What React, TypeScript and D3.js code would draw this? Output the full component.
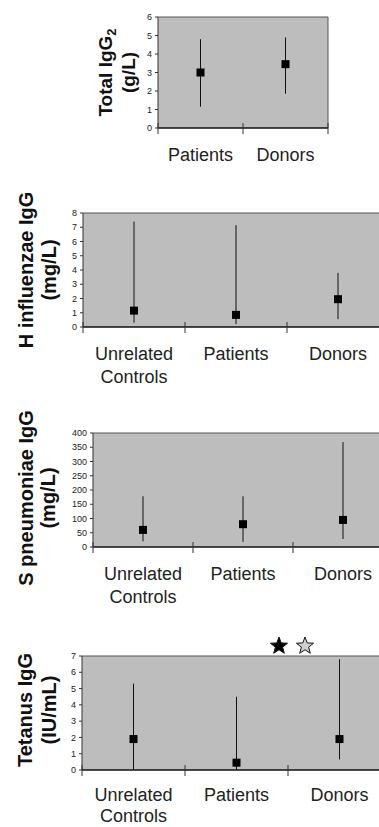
import React from 'react';
import * as d3 from 'd3';

// Valores
const twoGroups = [['Patients'], ['Donors']];
const threeGroups = [['Unrelated', 'Controls'], ['Patients'], ['Donors']];

// Total IgG2 (g/L)
const igg2Mean = [3.0, 3.45];
const igg2Low = [1.15, 1.85];
const igg2High = [4.8, 4.9];
const igg2Ticks = [0, 1, 2, 3, 4, 5, 6];

// H influenzae IgG (mg/L)
const hibMean = [1.15, 0.85, 1.95];
const hibLow = [0.3, 0.2, 0.55];
const hibHigh = [7.4, 7.15, 3.8];
const hibTicks = [0, 1, 2, 3, 4, 5, 6, 7, 8];

// S pneumoniae IgG (mg/L)
const pnMean = [60, 80, 95];
const pnLow = [20, 18, 28];
const pnHigh = [178, 178, 368];
const pnTicks = [0, 50, 100, 150, 200, 250, 300, 350, 400];

// Tetanus IgG (IU/mL)
const tetMean = [1.9, 0.45, 1.9];
const tetLow = [0, 0, 0.65];
const tetHigh = [5.3, 4.5, 6.8];
const tetTicks = [0, 1, 2, 3, 4, 5, 6, 7];

const FONT = '"Liberation Sans", Arial, sans-serif';
const PLOT_FILL = '#bdbdbd';

function Star({ x, y, r, fill }) {
  const pts = d3.range(10).map(i => {
    const a = -Math.PI / 2 + (i * Math.PI) / 5;
    const rr = i % 2 === 0 ? r : r * 0.42;
    return [x + rr * Math.cos(a), y + rr * Math.sin(a)];
  });
  return <path d={d3.line()(pts) + 'Z'} fill={fill} stroke="#111" strokeWidth={1} />;
}

function Panel({ left, top, bottom, bandW, groups, mean, low, high, ticks, labels, labelX, labelSize,
  labelDy = 0, catDy = 33, catGap = 23, frameRight = false }) {
  const yMax = ticks[ticks.length - 1];
  const y = d3.scaleLinear().domain([0, yMax]).range([bottom, top]);
  const x = d3.scaleBand().domain(groups.map((_, i) => String(i))).range([left, left + bandW * groups.length]);
  const right = left + bandW * groups.length;
  const cy = (top + bottom) / 2 + labelDy;
  const m = 4;
  return (
    <g>
      <rect x={left} y={top} width={right - left} height={bottom - top} fill={PLOT_FILL} />
      <line x1={left} x2={right} y1={top} y2={top} stroke="#555" strokeWidth={1} />
      {frameRight && <line x1={right} x2={right} y1={top} y2={bottom} stroke="#555" strokeWidth={1} />}
      <line x1={left} x2={left} y1={top} y2={bottom} stroke="#333" strokeWidth={1} />
      <line x1={left} x2={right} y1={bottom} y2={bottom} stroke="#111" strokeWidth={1.5} />
      {ticks.map(t => (
        <g key={t}>
          <line x1={left - 3} x2={left} y1={y(t)} y2={y(t)} stroke="#333" />
          <text x={left - 6} y={y(t)} dy="0.35em" textAnchor="end" fontSize={9} fill="#222" fontFamily={FONT}>{t}</text>
        </g>
      ))}
      {d3.range(groups.length + 1).map(i => (
        <line key={i} x1={left + i * bandW} x2={left + i * bandW} y1={bottom - 5} y2={bottom + 6} stroke="#333" />
      ))}
      {groups.map((g, i) => {
        const cx = x(String(i)) + x.bandwidth() / 2;
        return (
          <g key={i}>
            <line x1={cx} x2={cx} y1={y(low[i])} y2={y(high[i])} stroke="#111" strokeWidth={1} />
            <rect x={cx - m} y={y(mean[i]) - m} width={m * 2} height={m * 2} fill="#000" />
            {g.map((s, j) => (
              <text key={j} x={cx} y={bottom + catDy + j * catGap} textAnchor="middle" fontSize={18} fill="#222" fontFamily={FONT}>{s}</text>
            ))}
          </g>
        );
      })}
      {labels.map((l, j) => (
        <text key={j} transform={`translate(${labelX[j]},${cy}) rotate(-90)`} textAnchor="middle" fontSize={labelSize} fontWeight="bold" fill="#111" fontFamily={FONT}>
          {l}
        </text>
      ))}
    </g>
  );
}

export default function App() {
  return (
    <div style={{ position: 'absolute', left: 0, top: 0, width: 379, height: 827, overflow: 'hidden', background: '#fff' }}>
      <svg width={379} height={827} style={{ display: 'block' }}>
        <Panel left={158} top={17} bottom={128} bandW={85} groups={twoGroups}
          mean={igg2Mean} low={igg2Low} high={igg2High} ticks={igg2Ticks} frameRight
          labels={[<>Total IgG<tspan fontSize={13} dy="0.3em">2</tspan></>, '(g/L)']}
          labelX={[112, 135]} labelSize={19} />
        <Panel left={83} top={213} bottom={327} bandW={102} groups={threeGroups}
          mean={hibMean} low={hibLow} high={hibHigh} ticks={hibTicks}
          labels={['H influenzae IgG', '(mg/L)']} labelX={[33, 56]} labelSize={20} />
        <Panel left={93} top={433} bottom={547} bandW={100} groups={threeGroups}
          mean={pnMean} low={pnLow} high={pnHigh} ticks={pnTicks}
          labels={['S pneumoniae IgG', '(mg/L)']} labelX={[33, 55]} labelSize={20} labelDy={8} />
        <Panel left={82} top={656} bottom={770} bandW={103} groups={threeGroups}
          mean={tetMean} low={tetLow} high={tetHigh} ticks={tetTicks}
          labels={['Tetanus IgG', '(IU/mL)']} labelX={[32, 56]} labelSize={20} labelDy={-3}
          catDy={31} catGap={21} />
        <Star x={279} y={646} r={9} fill="#000" />
        <Star x={305} y={646} r={9} fill="#d0d0d0" />
      </svg>
    </div>
  );
}
